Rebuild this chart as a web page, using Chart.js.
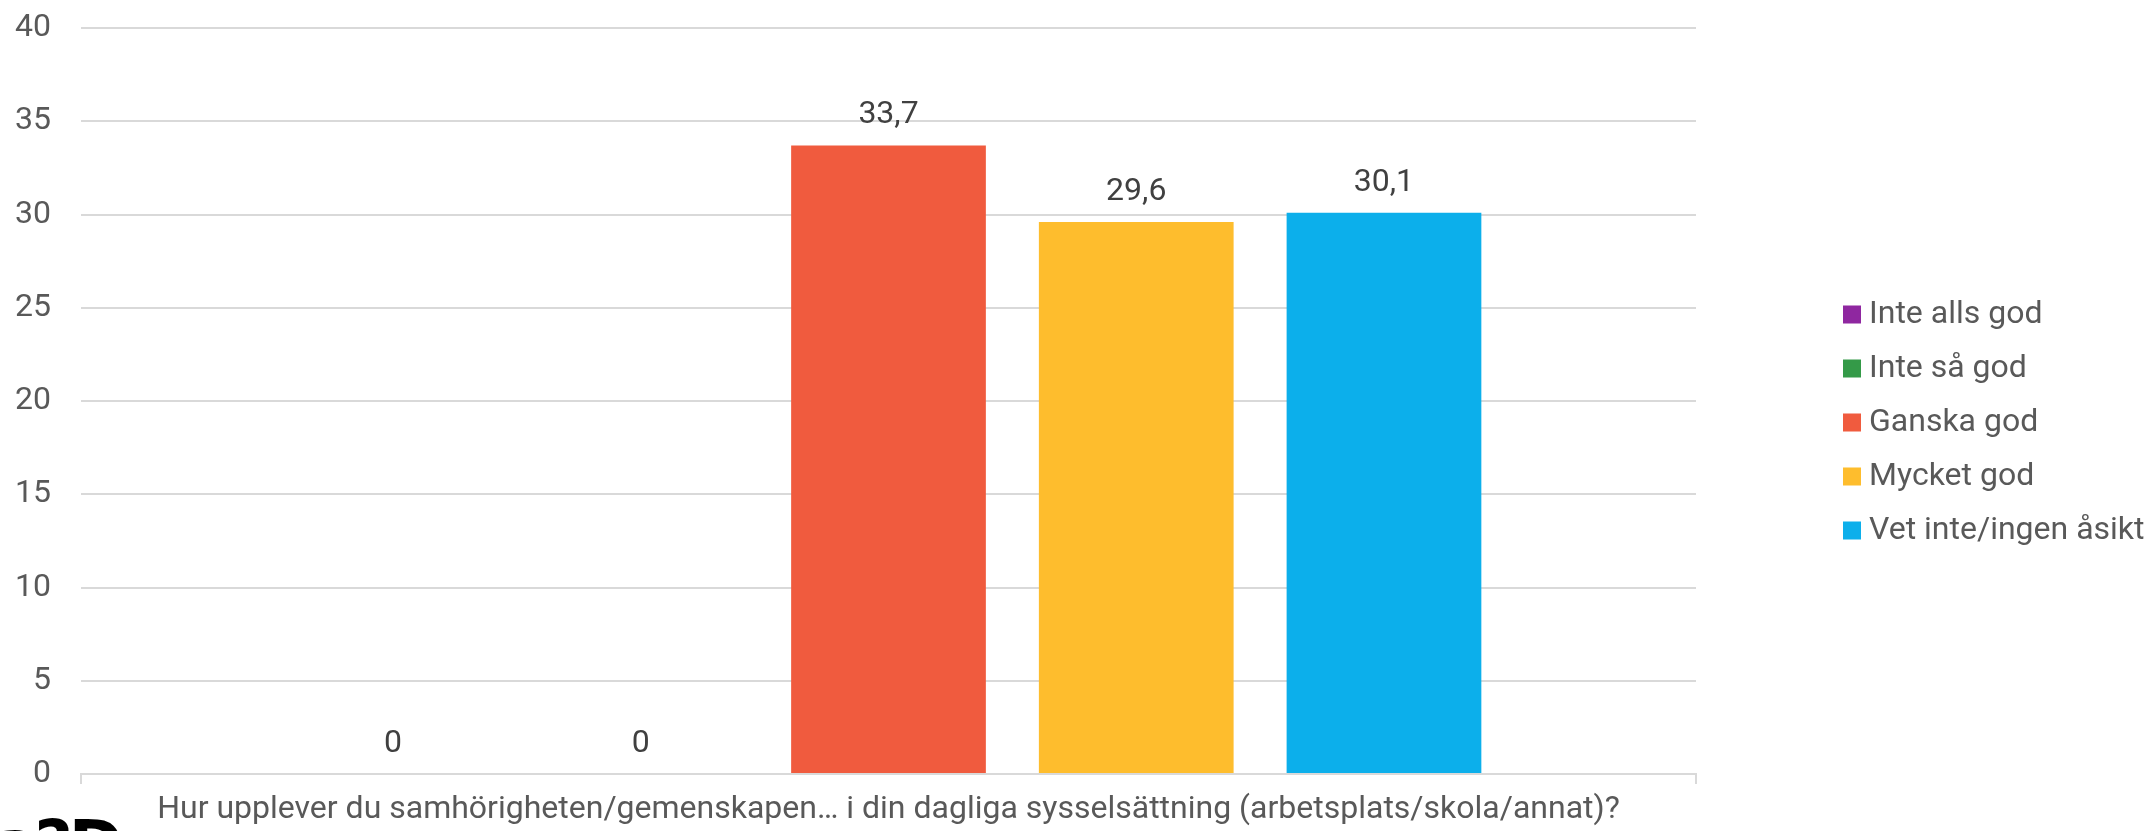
<!DOCTYPE html>
<html>
<head>
<meta charset="utf-8">
<script src="https://cdn.jsdelivr.net/npm/chart.js@4"></script>
<style>
  html, body { margin: 0; padding: 0; background: #fff; }
  #wrap { position: relative; width: 2149px; height: 831px; overflow: hidden; }
  #junk { position: absolute; left: -6px; top: 806px; font: bold 66px "DejaVu Sans"; color: #000; letter-spacing: -4px; }
</style>
</head>
<body>
<div id="wrap">
  <canvas id="theCanvas"></canvas>
  <div id="junk">a?D</div>
</div>
<script>
// data
var categories = ['Hur upplever du samhörigheten/gemenskapen… i din dagliga sysselsättning (arbetsplats/skola/annat)?']
var seriesNames = ['Inte alls god', 'Inte så god', 'Ganska god', 'Mycket god', 'Vet inte/ingen åsikt']
var seriesValues = [[0], [0], [33.7], [29.6], [30.1]]
var seriesColors = ['rgb(143, 39, 160)', 'rgb(52, 154, 72)', 'rgb(240, 91, 62)', 'rgb(254, 189, 45)', 'rgb(12, 175, 235)']
var yTicks = [0, 5, 10, 15, 20, 25, 30, 35, 40]

var datasets = []
for (var i = 0; i < seriesNames.length; i++) {
    datasets.push({
        label: seriesNames[i],
        data: seriesValues[i],
        backgroundColor: seriesColors[i],
        barPercentage: 0.786,
        categoryPercentage: 0.767
    })
}

// value labels above the bars
var valueLabels = {
    id: 'valueLabels',
    afterDatasetsDraw: function(chart) {
        var ctx = chart.ctx
        ctx.save()
        ctx.font = '32px Roboto'
        ctx.fillStyle = '#404040'
        ctx.textAlign = 'center'
        ctx.textBaseline = 'middle'
        chart.data.datasets.forEach(function(ds, di) {
            var meta = chart.getDatasetMeta(di)
            meta.data.forEach(function(bar, j) {
                var txt = String(ds.data[j]).replace('.', ',')
                ctx.fillText(txt, bar.x, bar.y - 30)
            })
        })
        ctx.restore()
    }
}

// legend squares drawn closer to the text than chart.js does
var legendBoxes = {
    id: 'legendBoxes',
    afterDraw: function(chart) {
        var lg = chart.legend
        if (!lg || !lg.legendHitBoxes) return
        var ctx = chart.ctx
        ctx.save()
        lg.legendHitBoxes.forEach(function(hb, i) {
            ctx.fillStyle = lg.legendItems[i].realColor
            ctx.fillRect(hb.left + 8, hb.top + (hb.height - 18) / 2, 18, 18)
        })
        ctx.restore()
    }
}

var ctx = document.getElementById('theCanvas')
var myChart = new Chart(ctx, {
    type: 'bar',
    data: {
        labels: categories,
        datasets: datasets
    },
    plugins: [valueLabels, legendBoxes],
    options: {
        responsive: true,
        maintainAspectRatio: false,
        animation: false,
        layout: { padding: { top: 14, left: 0, right: 0, bottom: 0 } },
        plugins: {
            tooltip: { enabled: false },
            legend: {
                position: 'right',
                maxWidth: 336,
                labels: {
                    boxWidth: 18,
                    boxHeight: 18,
                    padding: 22,
                    color: '#595959',
                    font: { family: 'Roboto', size: 32 },
                    generateLabels: function(chart) {
                        var items = Chart.defaults.plugins.legend.labels.generateLabels(chart)
                        items.forEach(function(it) {
                            it.realColor = it.fillStyle
                            it.fillStyle = 'rgba(0,0,0,0)'
                            it.strokeStyle = 'rgba(0,0,0,0)'
                            it.lineWidth = 0
                        })
                        return items
                    }
                }
            }
        },
        scales: {
            x: {
                offset: true,
                grid: { display: true, drawOnChartArea: false, drawTicks: true, tickLength: 10, color: '#d9d9d9', lineWidth: 2, offset: true },
                border: { display: true, color: '#d9d9d9', width: 2 },
                ticks: { color: '#595959', font: { family: 'Roboto', size: 32 }, padding: 7, maxRotation: 0, autoSkip: false },
                afterFit: function(s) { s.height = 57; s.paddingTop = 0; s.paddingBottom = 0 }
            },
            y: {
                min: 0,
                max: 40,
                afterBuildTicks: function(s) { s.ticks = yTicks.map(function(v) { return { value: v } }) },
                grid: { color: '#d9d9d9', lineWidth: 2, drawTicks: false },
                border: { display: false },
                ticks: { color: '#595959', font: { family: 'Roboto', size: 32 }, padding: 30 },
                afterFit: function(s) { s.width = 81; s.paddingTop = 28; s.paddingBottom = 0 }
            },
            y2: {
                position: 'right',
                min: 0,
                max: 40,
                grid: { display: false },
                border: { display: false },
                ticks: { display: false },
                afterFit: function(s) { s.width = 117; s.paddingTop = 0; s.paddingBottom = 0 }
            }
        }
    }
})
</script>
</body>
</html>
